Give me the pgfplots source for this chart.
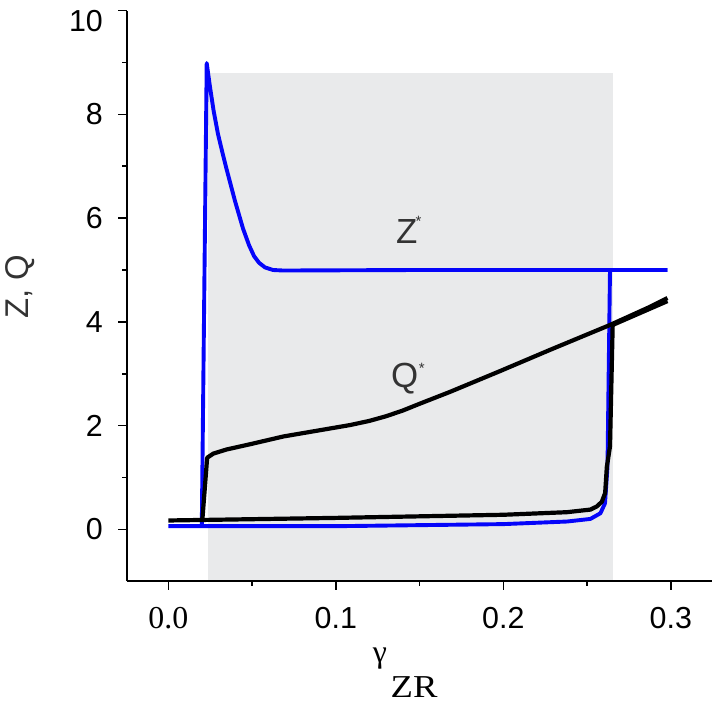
\documentclass[border=0pt]{standalone}
\usepackage{fontspec}
\setmainfont{Liberation Sans}
\newfontfamily\seriffont{Liberation Serif}
\usepackage{pgfplots}
\pgfplotsset{compat=1.18}
\definecolor{shade}{RGB}{233,234,235}
\definecolor{zblue}{RGB}{5,5,250}
\definecolor{lab}{RGB}{51,51,51}
\begin{document}
\begin{tikzpicture}
\begin{axis}[
 x=1675bp, y=51.86bp,
 xmin=-0.0248, xmax=0.3244, ymin=-1, ymax=10,
 axis x line=bottom, axis y line=left,
 axis line style={-, line width=2bp, black},
 axis on top,
 clip=false,
 xtick={0,0.1,0.2,0.3},
 xticklabels={{\seriffont\fontsize{32}{32}\selectfont 0.0},0.1,0.2,0.3},
 minor xtick={0.05,0.15,0.25},
 ytick={0,2,4,6,8,10},
 yticklabels={0,2,4,6,8,{}},
 minor ytick={1,3,5,7,9},
 tick align=outside,
 major tick length=8.5bp, minor tick length=4.5bp,
 every tick/.style={black, line width=1.6bp},
 tick label style={font=\fontsize{30.5}{30.5}\selectfont, inner sep=0pt},
 xticklabel style={anchor=north, yshift=-17.5bp},
 yticklabel style={anchor=east, xshift=-15.2bp},
]
% shaded region
\addplot[draw=none, fill=shade] coordinates {(0.0235,-1) (0.0235,8.79) (0.2657,8.79) (0.2657,-1)} -- cycle;

% Z lower branch
\addplot[zblue, line width=3.9bp, line join=round] coordinates {
(0,0.06) (0.1,0.06) (0.2,0.10) (0.238,0.15) (0.252,0.2) (0.258,0.31) (0.2607,0.5) (0.2622,1.2) (0.2637,5.0) (0.298,5.0)};
% Z upper branch
\addplot[zblue, line width=3.9bp, line join=round] coordinates {
(0.0200,0.06) (0.02293,8.99) (0.02480,8.55) (0.02700,8.08) (0.02967,7.62) (0.03220,7.28) (0.03475,6.95) (0.03982,6.33) (0.04460,5.80) (0.04818,5.48) (0.05116,5.27) (0.05415,5.14) (0.05773,5.05) (0.06251,5.00) (0.0685,4.99) (0.15,5.0) (0.298,5.0)};

% Q lower branch
\addplot[black, line width=4.2bp, line join=round] coordinates {
(0,0.17) (0.1,0.22) (0.2,0.28) (0.238,0.33) (0.252,0.38) (0.2558,0.44) (0.2588,0.53) (0.2608,0.7) (0.2618,1.2) (0.2637,1.6) (0.2653,3.94) (0.298,4.40)};
% Q upper branch
\addplot[black, line width=4.2bp, line join=round] coordinates {
(0.0203,0.17) (0.0232,1.38) (0.0269,1.46) (0.0349,1.54) (0.0488,1.64) (0.0687,1.79) (0.0886,1.90) (0.1085,2.01) (0.1200,2.09) (0.1300,2.18) (0.1400,2.29) (0.1500,2.42) (0.1682,2.65) (0.198,3.05) (0.2279,3.46) (0.2637,3.94) (0.2876,4.29) (0.298,4.46)};

% top tick label
\node[anchor=north east, font=\fontsize{30.5}{30.5}\selectfont, inner sep=0pt] at (axis cs:-0.03898,10.0135) {10};

% labels
\node[anchor=base, text=lab, font=\fontsize{35}{35}\selectfont, inner sep=0pt] at (axis cs:0.1423,5.515) {Z};
\node[anchor=base, text=lab, font=\fontsize{15}{15}\selectfont, inner sep=0pt] at (axis cs:0.1494,5.835) {*};
\node[anchor=base, text=lab, font=\fontsize{35}{35}\selectfont, inner sep=0pt] at (axis cs:0.1411,2.725) {Q};
\node[anchor=base, text=lab, font=\fontsize{15}{15}\selectfont, inner sep=0pt] at (axis cs:0.1513,3.0) {*};

% y label
\node[rotate=90, text=lab, font=\fontsize{33}{33}\selectfont, inner sep=0pt] at (axis cs:-0.0885,4.672) {Z, Q};
% x label
\node[font=\seriffont\fontsize{32}{32}\selectfont, inner sep=0pt] at (axis cs:0.1264,-2.491) {γ};
\node[anchor=base, font=\seriffont\fontsize{32}{32}\selectfont, inner sep=0pt] at (axis cs:0.1467,-3.234) {\scalebox{1.15}[1]{ZR}};

% bounding box
\path (axis cs:-0.10048,-3.3494) rectangle (axis cs:0.32818,10.2063);
\end{axis}
\end{tikzpicture}
\end{document}
